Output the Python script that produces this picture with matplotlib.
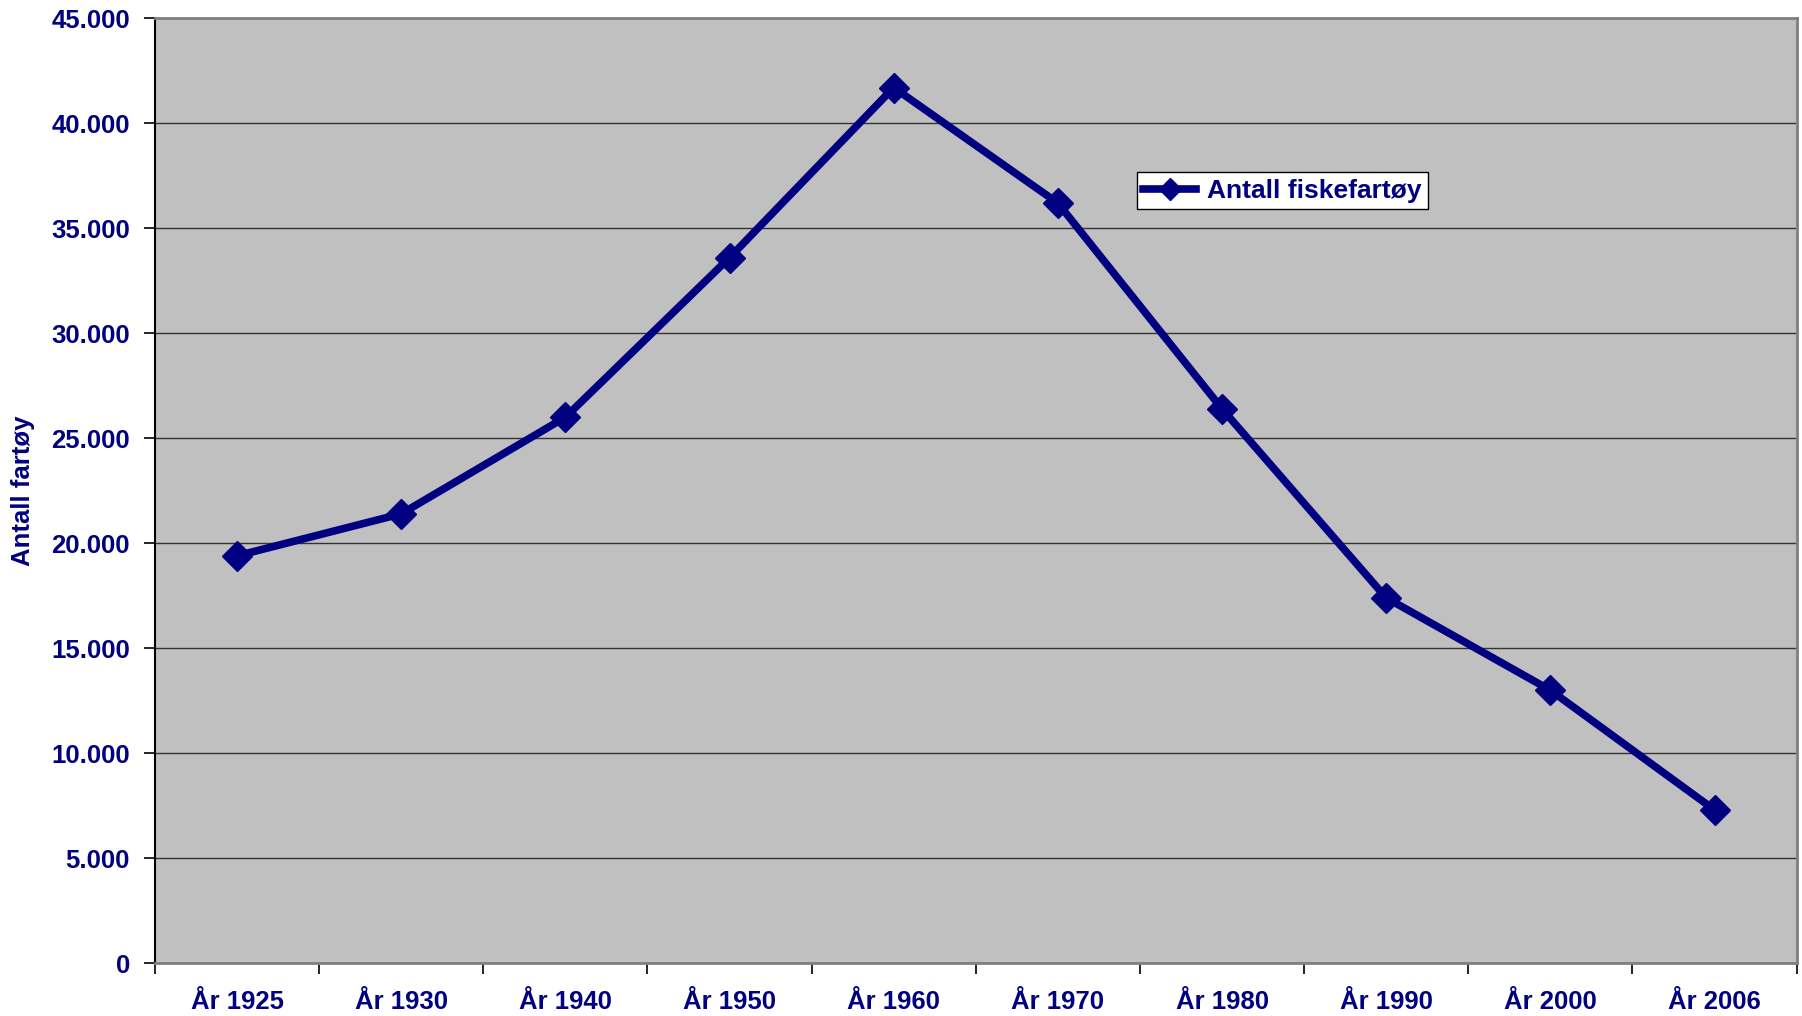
import numpy as np
import matplotlib.pyplot as plt
from matplotlib.ticker import FuncFormatter, FixedLocator

# Data
years  = ['År 1925', 'År 1930', 'År 1940', 'År 1950', 'År 1960',
          'År 1970', 'År 1980', 'År 1990', 'År 2000', 'År 2006']
vessels = [19400, 21400, 26000, 33600, 41700, 36200, 26400, 17400, 13000, 7300]

navy = '#000080'
plt.rcParams['font.family'] = ['Liberation Sans', 'DejaVu Sans']
plt.rcParams['font.weight'] = 'bold'

fig = plt.figure(figsize=(18.02, 10.16), dpi=100)
ax = fig.add_axes([0.086, 0.052, 0.911, 0.930])
ax.set_facecolor('#C0C0C0')

x = np.arange(len(years))
ax.plot(x, vessels, color=navy, lw=5.5, marker='D', ms=15, mfc=navy, mec=navy,
        label='Antall fiskefartøy', zorder=3)

ax.set_xlim(-0.5, len(years) - 0.5)
ax.set_ylim(0, 45000)
ax.set_yticks(np.arange(0, 45001, 5000))
ax.yaxis.set_major_formatter(FuncFormatter(lambda v, p: f'{int(v):,}'.replace(',', '.')))
ax.grid(axis='y', color='#333333', lw=1.0, zorder=1)

# category labels centred, ticks on the category boundaries
ax.set_xticks(x)
ax.set_xticklabels(years)
ax.xaxis.set_minor_locator(FixedLocator(np.arange(-0.5, len(years), 1.0)))
ax.tick_params(axis='x', which='major', length=0, pad=19, labelsize=18.5, labelcolor=navy)
ax.tick_params(axis='x', which='minor', length=8, width=1.2, color='black', direction='out')
ax.tick_params(axis='y', length=8, width=1.2, color='black', direction='out',
               labelsize=18.5, labelcolor=navy, pad=10)

for s in ['top', 'right', 'bottom']:
    ax.spines[s].set_color('#808080')
    ax.spines[s].set_linewidth(2)
ax.spines['left'].set_color('black')
ax.spines['left'].set_linewidth(1.5)

ax.set_ylabel('Antall fartøy', color=navy, fontsize=18.5, fontweight='bold', labelpad=12)

leg = ax.legend(loc='upper left', bbox_to_anchor=(0.59, 0.851), fontsize=19,
                frameon=True, fancybox=False, handlelength=2.0, borderpad=0.25,
                handletextpad=0.4, markerscale=0.75)
leg.get_frame().set_edgecolor('black')
leg.get_frame().set_facecolor('white')
leg.get_frame().set_linewidth(1.0)
leg.get_frame().set_alpha(1)
for t in leg.get_texts():
    t.set_color(navy)

fig.savefig('out.png', dpi=100)
